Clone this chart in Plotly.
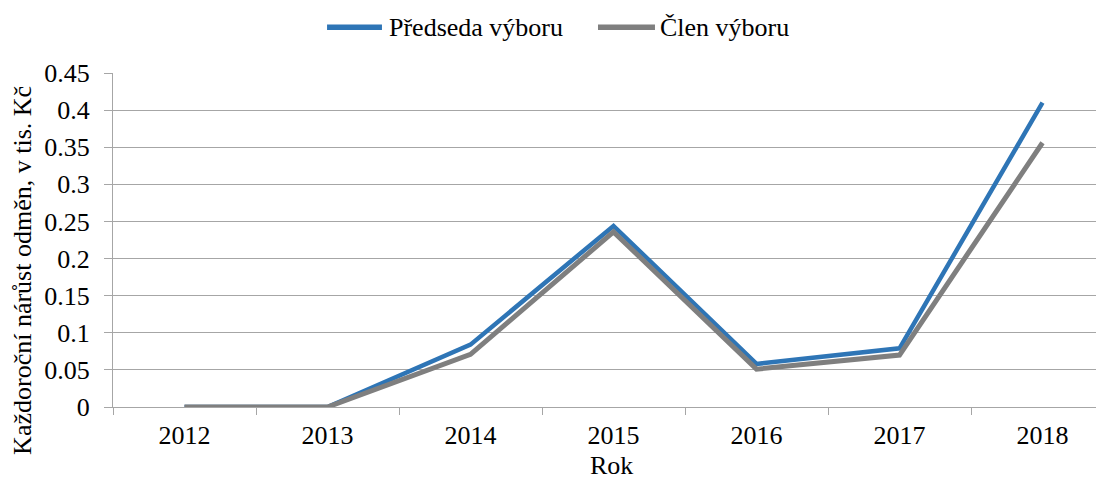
import plotly.graph_objects as go

years = ["2012", "2013", "2014", "2015", "2016", "2017", "2018"]
predseda = [0.0, 0.0, 0.084, 0.244, 0.058, 0.079, 0.410]
clen = [0.0, 0.0, 0.071, 0.236, 0.051, 0.070, 0.356]
y_ticks = [0, 0.05, 0.1, 0.15, 0.2, 0.25, 0.3, 0.35, 0.4, 0.45]
series_names = ["Předseda výboru", "Člen výboru"]
series_colors = ["#2E75B6", "#7F7F7F"]

FONT = "Liberation Serif"
GRID = "#A6A6A6"

fig = go.Figure()
fig.add_trace(go.Scatter(x=years, y=predseda, mode="lines", name=series_names[0],
                         line=dict(color=series_colors[0], width=4.5)))
fig.add_trace(go.Scatter(x=years, y=clen, mode="lines", name=series_names[1],
                         line=dict(color=series_colors[1], width=5)))

# manual legend (Excel-style long line keys)
legend_y = 1.137
legend_items = [(0.2160, 0.2714, 0.2765), (0.4894, 0.5469, 0.5500)]
shapes = []
annotations = []
for (x0, x1, xt), name, col in zip(legend_items, series_names, series_colors):
    shapes.append(dict(type="line", xref="paper", yref="paper", x0=x0, x1=x1,
                       y0=legend_y, y1=legend_y, line=dict(color=col, width=5.5)))
    annotations.append(dict(text=name, xref="paper", yref="paper", x=xt, y=legend_y,
                            xanchor="left", yanchor="middle", showarrow=False,
                            font=dict(family=FONT, size=26)))

annotations += [
    dict(text="Každoroční nárůst odměn, v tis. Kč", textangle=-90,
         xref="paper", yref="paper", x=-0.092, y=0.41,
         xanchor="center", yanchor="middle", showarrow=False,
         font=dict(family=FONT, size=26)),
    dict(text="Rok", xref="paper", yref="paper", x=0.5035, y=-0.174,
         xanchor="center", yanchor="middle", showarrow=False,
         font=dict(family=FONT, size=26)),
]

fig.update_layout(
    width=1104, height=478,
    margin=dict(l=105, r=8, t=65, b=79, autoexpand=False),
    paper_bgcolor="white", plot_bgcolor="white",
    font=dict(family=FONT, size=26, color="black"),
    showlegend=False,
    xaxis=dict(
        type="category", range=[-0.5, 6.43],
        showgrid=False, showline=True, linecolor=GRID, linewidth=1.3,
        ticks="outside", ticklen=7, tickcolor=GRID, tickson="boundaries",
        tickfont=dict(family=FONT, size=26), zeroline=False, ticklabelstandoff=5,
    ),
    yaxis=dict(
        range=[0, 0.45], tickvals=y_ticks, ticktext=[f"{v:g}" for v in y_ticks],
        showgrid=True, gridcolor=GRID, gridwidth=1.3,
        showline=True, linecolor=GRID, linewidth=1.3,
        ticks="outside", ticklen=8, tickcolor=GRID,
        tickfont=dict(family=FONT, size=26), zeroline=False, ticklabelstandoff=9,
    ),
    shapes=shapes,
    annotations=annotations,
)

fig.write_html("out.html")
